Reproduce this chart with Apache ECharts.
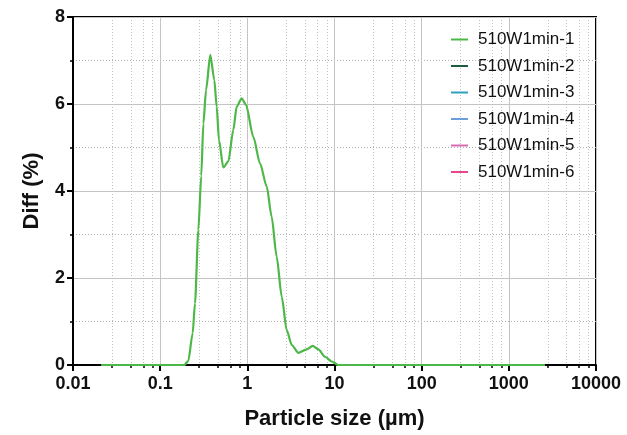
<!DOCTYPE html>
<html>
<head>
<meta charset="utf-8">
<script src="https://cdn.jsdelivr.net/npm/echarts@6/dist/echarts.min.js"></script>
<style>
  html, body { margin: 0; padding: 0; background: #fff; }
  #chart { width: 627px; height: 435px; }
</style>
</head>
<body>
<div id="chart"></div>
<script>
// particle size (µm) and differential volume (%) for 510W1min-1
const sizeUm = [0.021, 0.189, 0.21, 0.236, 0.251, 0.274, 0.296, 0.313, 0.336, 0.376, 0.418, 0.445, 0.473,
  0.53, 0.605, 0.69, 0.755, 0.861, 0.966, 1.17, 1.4, 1.67, 1.9, 2.17, 2.48, 2.83, 3.23, 3.85, 4.8,
  5.62, 6.53, 7.79, 9.29, 11.1, 2600]
const diffPct = [0, 0, 0.09, 0.73, 1.42, 3.1, 4.35, 5.55, 6.32, 7.13, 6.55, 5.94, 5.17,
  4.54, 4.68, 5.4, 5.94, 6.13, 5.98, 5.25, 4.63, 4.1, 3.41, 2.49, 1.57, 0.8, 0.46, 0.28, 0.36,
  0.44, 0.36, 0.19, 0.08, 0, 0]

const seriesNames = ['510W1min-1', '510W1min-2', '510W1min-3', '510W1min-4', '510W1min-5', '510W1min-6']
const seriesColors = ['#4db848', '#1d5c3c', '#2aa3bd', '#6a9fd8', '#d86cb4', '#e8478e']

const xTicks = [0.01, 0.1, 1, 10, 100, 1000, 10000]
const xTickLabels = ['0.01', '0.1', '1', '10', '100', '1000', '10000']
const minorSteps = [2.8, 4.6, 6.4, 8.2] // minor grid within each decade

const xMinor = []
xTicks.slice(0, -1).forEach(d => minorSteps.forEach(s => xMinor.push(+(d * s).toPrecision(4))))

const font = 'Liberation Sans, Arial, sans-serif'
const chart = echarts.init(document.getElementById('chart'))

const curve = sizeUm.map((s, i) => [s, diffPct[i]])

chart.setOption({
  animation: false,
  grid: {
    left: 73, right: 31, top: 17, bottom: 70,
    show: true, borderColor: '#000', borderWidth: 2
  },
  legend: {
    orient: 'vertical',
    left: 446,
    top: 26,
    icon: 'rect',
    itemWidth: 17,
    itemHeight: 2,
    itemGap: 9.5,
    data: seriesNames,
    textStyle: { fontFamily: font, fontSize: 17, color: '#111', lineHeight: 17, padding: [0, 0, 0, 5] }
  },
  xAxis: [
    {
      type: 'log', logBase: 10, min: 0.01, max: 10000,
      name: 'Particle size (µm)', nameLocation: 'middle', nameGap: 43,
      nameTextStyle: { fontFamily: font, fontSize: 22, fontWeight: 'bold', color: '#111' },
      axisLine: { show: true, onZero: false, lineStyle: { color: '#000', width: 2 } },
      axisTick: { show: true, customValues: xTicks, length: 6, lineStyle: { color: '#000', width: 2 } },
      axisLabel: {
        customValues: xTicks, margin: 10,
        fontFamily: font, fontSize: 18, fontWeight: 'bold', color: '#111',
        formatter: v => xTickLabels[xTicks.findIndex(t => Math.abs(Math.log10(t) - Math.log10(v)) < 1e-6)]
      },
      splitLine: { show: true, lineStyle: { color: '#c4c4c4', width: 1 } }
    },
    {
      type: 'log', logBase: 10, min: 0.01, max: 10000, position: 'bottom',
      axisLine: { show: false },
      axisTick: { show: true, customValues: xMinor, length: 3, lineStyle: { color: '#000', width: 1.5 } },
      axisLabel: { show: false },
      splitLine: { show: true, lineStyle: { color: '#c0c0c0', width: 1, type: [1, 2] } }
    }
  ],
  yAxis: {
    type: 'value', min: 0, max: 8, interval: 2,
    name: 'Diff (%)', nameLocation: 'middle', nameGap: 30,
    nameTextStyle: { fontFamily: font, fontSize: 22, fontWeight: 'bold', color: '#111' },
    axisLine: { show: true, lineStyle: { color: '#000', width: 2 } },
    axisTick: { show: true, length: 6, lineStyle: { color: '#000', width: 2 } },
    minorTick: { show: true, splitNumber: 2, length: 3, lineStyle: { color: '#000', width: 1.5 } },
    axisLabel: { margin: 8, fontFamily: font, fontSize: 18, fontWeight: 'bold', color: '#111' },
    splitLine: { show: true, lineStyle: { color: '#c4c4c4', width: 1 } },
    minorSplitLine: { show: true, lineStyle: { color: '#b0b0b0', width: 1, type: [1, 2] } }
  },
  series: seriesNames.map((name, i) => ({
    name: name,
    type: 'line',
    data: i === 0 ? curve : [],
    color: seriesColors[i],
    showSymbol: false,
    smooth: 0.25,
    smoothMonotone: 'x',
    lineStyle: { width: 2.2 },
    z: 3
  }))
})
</script>
</body>
</html>
